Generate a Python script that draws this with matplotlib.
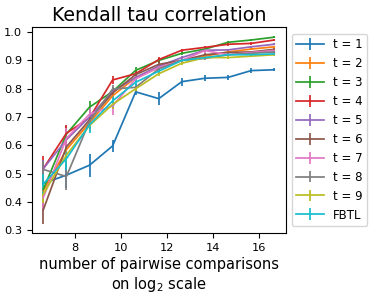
import numpy as np
import matplotlib
matplotlib.use('Agg')
import matplotlib.pyplot as plt

# x positions: log2 of number of pairwise comparisons (100 * 2^k)
n_comparisons = [100, 200, 400, 800, 1600, 3200, 6400, 12800, 25600, 51200, 102400]

labels = ['t = 1', 't = 2', 't = 3', 't = 4', 't = 5', 't = 6', 't = 7', 't = 8', 't = 9', 'FBTL']

t1 = [0.466, 0.495, 0.530, 0.598, 0.789, 0.765, 0.825, 0.837, 0.840, 0.864, 0.867]
t2 = [0.44, 0.585, 0.68, 0.775, 0.84, 0.875, 0.90, 0.915, 0.93, 0.94, 0.948]
t3 = [0.445, 0.64, 0.735, 0.79, 0.865, 0.90, 0.925, 0.94, 0.964, 0.972, 0.982]
t4 = [0.518, 0.643, 0.697, 0.831, 0.853, 0.903, 0.936, 0.946, 0.957, 0.96, 0.972]
t5 = [0.518, 0.62, 0.70, 0.79, 0.84, 0.88, 0.91, 0.936, 0.937, 0.948, 0.957]
t6 = [0.373, 0.595, 0.69, 0.785, 0.85, 0.886, 0.90, 0.92, 0.928, 0.93, 0.939]
t7 = [0.416, 0.625, 0.71, 0.739, 0.835, 0.875, 0.90, 0.935, 0.92, 0.928, 0.935]
t8 = [0.515, 0.49, 0.685, 0.799, 0.805, 0.87, 0.90, 0.907, 0.92, 0.925, 0.93]
t9 = [0.428, 0.566, 0.67, 0.745, 0.80, 0.853, 0.89, 0.91, 0.91, 0.915, 0.92]
fbtl = [0.464, 0.553, 0.673, 0.757, 0.823, 0.862, 0.90, 0.91, 0.92, 0.92, 0.923]

# standard errors
err1 = [0.02, 0.047, 0.04, 0.02, 0.012, 0.024, 0.014, 0.01, 0.008, 0.008, 0.005]
err2 = [0.03, 0.03, 0.02, 0.015, 0.01, 0.008, 0.006, 0.005, 0.005, 0.004, 0.004]
err3 = [0.03, 0.03, 0.02, 0.015, 0.012, 0.008, 0.006, 0.005, 0.005, 0.004, 0.004]
err4 = [0.045, 0.03, 0.02, 0.015, 0.01, 0.01, 0.006, 0.006, 0.005, 0.004, 0.004]
err5 = [0.03, 0.03, 0.02, 0.015, 0.01, 0.008, 0.006, 0.005, 0.005, 0.004, 0.004]
err6 = [0.05, 0.03, 0.02, 0.015, 0.01, 0.008, 0.006, 0.005, 0.005, 0.004, 0.004]
err7 = [0.04, 0.035, 0.025, 0.03, 0.01, 0.008, 0.006, 0.01, 0.005, 0.004, 0.004]
err8 = [0.03, 0.047, 0.02, 0.015, 0.01, 0.008, 0.006, 0.006, 0.005, 0.004, 0.004]
err9 = [0.03, 0.03, 0.02, 0.015, 0.01, 0.008, 0.006, 0.005, 0.005, 0.004, 0.004]
errf = [0.035, 0.04, 0.03, 0.02, 0.015, 0.008, 0.006, 0.005, 0.005, 0.004, 0.004]

series = [t1, t2, t3, t4, t5, t6, t7, t8, t9, fbtl]
errors = [err1, err2, err3, err4, err5, err6, err7, err8, err9, errf]

x = np.log2(n_comparisons)

fig = plt.figure(figsize=(3.74, 2.93), dpi=100)
ax = fig.add_axes([0.085, 0.204, 0.679, 0.705])

for vals, err, lab in zip(series, errors, labels):
    ax.errorbar(x, vals, yerr=err, label=lab, linewidth=1.25, elinewidth=1.25)

ax.set_title('Kendall tau correlation', fontsize=13.7, pad=4)
ax.set_xlabel('number of pairwise comparisons\non log$_2$ scale', fontsize=10.5, labelpad=3)
ax.set_xticks([8, 10, 12, 14, 16])
ax.set_yticks([0.3, 0.4, 0.5, 0.6, 0.7, 0.8, 0.9, 1.0])
ax.tick_params(labelsize=8.2)
ax.legend(loc='center left', bbox_to_anchor=(1.0, 0.5), fontsize=8.5, handlelength=2.3)

fig.savefig('out.png', dpi=100)
